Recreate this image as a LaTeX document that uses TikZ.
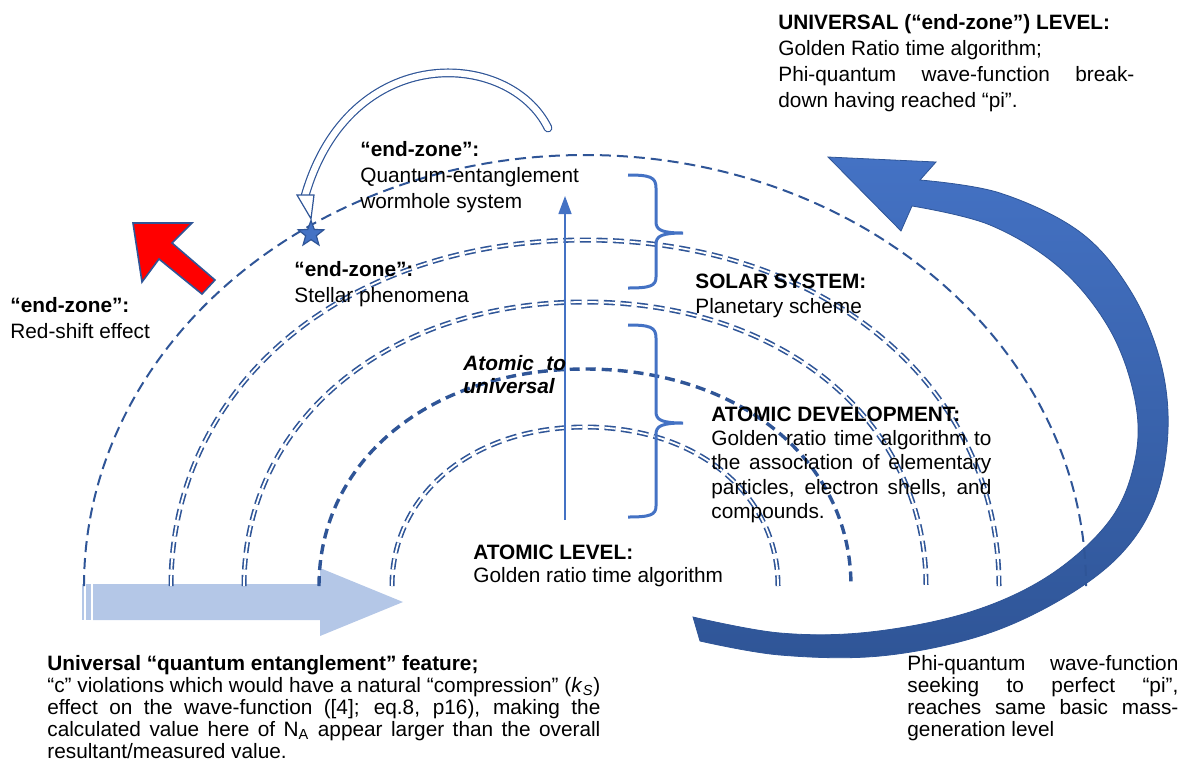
\documentclass[tikz,border=0pt]{standalone}
\usepackage{fontspec}
\setmainfont{Liberation Sans}
\usetikzlibrary{shapes.geometric,arrows.meta}
\definecolor{dblue}{HTML}{2F5597}
\definecolor{mblue}{HTML}{4472C4}
\definecolor{lblue}{HTML}{B4C7E7}
\newcommand{\tbox}[3]{\parbox[t]{#1}{\fontsize{10.4}{#2}\selectfont #3}}
\newcommand{\jl}[1]{\makebox[\linewidth][s]{#1}}
\tikzset{
  txt/.style={anchor=base west, inner sep=0pt},
  arcsingle/.style={draw=dblue, line width=1pt, dash pattern=on 5.5pt off 3pt},
  arcdouble/.style={draw=dblue, line width=0.8pt, double=white, double distance=0.9pt, dash pattern=on 5.5pt off 2.8pt},
  arcthick/.style={draw=dblue, line width=1.7pt, dash pattern=on 5pt off 3pt},
  bracestyle/.style={draw=mblue, line width=1.5pt},
}
\begin{document}
\begin{tikzpicture}[x=0.5pt,y=0.5pt]
\useasboundingbox (0,0) rectangle (1188,-767);

% light blue striped arrow
\fill[lblue] (82,-584) rectangle (84,-620);
\fill[lblue] (86,-584) rectangle (91,-620);
\fill[lblue] (93,-584) -- (320,-584) -- (320,-568) -- (403,-602) -- (320,-636) -- (320,-620) -- (93,-620) -- cycle;

% big curved blue arrow
\shadedraw[top color=mblue, middle color=mblue, bottom color=dblue, draw=dblue, line width=0.4pt]
  plot[smooth, tension=0.6] coordinates {(700,-641) (780,-655) (880,-656) (980,-636) (1060,-600) (1120,-555) (1155,-500) (1168,-430) (1160,-360) (1130,-290) (1080,-232) (1000,-193) (920,-180)}
  -- (936,-162) -- (828,-157) -- (901,-231)
  -- plot[smooth, tension=0.6] coordinates {(912,-206) (990,-225) (1060,-268) (1110,-330) (1135,-400) (1135,-460) (1110,-520) (1050,-575) (970,-612) (870,-632) (780,-633) (693,-617)}
  -- cycle;

% red arrow
\filldraw[fill=red, draw=dblue, line width=0.8pt, line join=miter]
  (133,-223) -- (192,-223) -- (172,-243) -- (215,-280) -- (202,-294) -- (159,-259) -- (142,-282) -- cycle;

% dashed arcs
\draw[arcsingle] (84,-586) arc[start angle=180, end angle=0, x radius=501, y radius=431];
\draw[arcdouble] (171,-586) .. controls (171,-385.3) and (344.9,-240) .. (585,-240) .. controls (825.1,-240) and (999,-385.3) .. (999,-586);
\draw[arcdouble] (244,-586) .. controls (244,-421.3) and (387.2,-302) .. (585,-302) .. controls (782.8,-302) and (926,-421.3) .. (926,-586);
\draw[arcthick] (319,-586) .. controls (319,-460.1) and (430.7,-369) .. (585,-369) .. controls (739.3,-369) and (851,-460.1) .. (851,-586);
\draw[arcdouble] (392,-586) .. controls (392,-493.8) and (473.1,-427) .. (585,-427) .. controls (696.9,-427) and (778,-493.8) .. (778,-586);

% braces
\draw[bracestyle] (628,-175) .. controls (650,-175) and (656,-177) .. (656,-188) -- (656,-222)
  .. controls (656,-230) and (662,-233) .. (683,-233)
  .. controls (662,-233) and (656,-236) .. (656,-244) -- (656,-277)
  .. controls (656,-286) and (650,-288) .. (628,-288);
\draw[bracestyle] (628,-325) .. controls (650,-325) and (656,-327) .. (656,-338) -- (656,-412)
  .. controls (656,-420) and (662,-423) .. (683,-423)
  .. controls (662,-423) and (656,-426) .. (656,-434) -- (656,-506)
  .. controls (656,-515) and (650,-517) .. (628,-517);

% vertical arrow
\coordinate (vbot) at (565,-520);
\coordinate (vtop) at (565,-196);
\draw[mblue, line width=0.7pt, -{Triangle[length=9pt,width=6.5pt]}] (vbot) -- (vtop);

% star
\node[star, star points=5, star point ratio=2.4, minimum size=13.5pt, inner sep=0pt, fill=mblue, draw=dblue, line width=0.6pt] (star) at (311,-234) {};

% hollow curved arrow
\coordinate (cvtail) at (548,-128);
\coordinate (cvhead) at (305,-196);
\draw[draw=dblue, line width=0.6pt, double=white, double distance=3.2pt, line cap=round] (cvtail) .. controls (510,-50) and (350,-40) .. (cvhead);
\filldraw[fill=white, draw=dblue, line width=0.6pt, line join=miter] (297,-195) -- (314,-195) -- (star.north) -- cycle;

% texts
\node[txt] (univ) at (778,-29) {\tbox{178pt}{13.15pt}{\textbf{UNIVERSAL (“end-zone”) LEVEL:}\\ Golden Ratio time algorithm;\\ \jl{Phi-quantum wave-function break-}\\ down having reached “pi”.}};
\node[txt] (ez1) at (360,-156) {\tbox{150pt}{13pt}{\textbf{“end-zone”:}\\ Quantum-entanglement\\ wormhole system}};
\node[txt] (ez2) at (294,-276) {\tbox{120pt}{13pt}{\textbf{“end-zone”:}\\ Stellar phenomena}};
\node[txt] (ez3) at (10,-312) {\tbox{120pt}{13pt}{\textbf{“end-zone”:}\\ Red-shift effect}};
\node[txt] (solar) at (695,-288) {\tbox{120pt}{12.5pt}{\textbf{SOLAR SYSTEM:}\\ Planetary scheme}};
\node[txt] (atu) at (463,-370) {\tbox{70pt}{11.5pt}{\textbf{\textit{Atomic\hspace{0.6em}to}}\\ \textbf{\textit{universal}}}};
\node[txt] (atdev) at (711,-421) {\tbox{140pt}{12.2pt}{\textbf{ATOMIC DEVELOPMENT:}\\ \jl{Golden ratio time algorithm to}\\ \jl{the association of elementary}\\ \jl{particles, electron shells, and}\\ compounds.}};
\node[txt] (atlev) at (473,-559) {\tbox{140pt}{11.5pt}{\textbf{ATOMIC LEVEL:}\\ Golden ratio time algorithm}};
\node[txt] (qef) at (47,-670) {\tbox{276.5pt}{11pt}{\textbf{Universal “quantum entanglement” feature;}\\ \jl{“c” violations which would have a natural “compression” (\textit{k}\textsubscript{\textit{S}})}\\ \jl{effect on the wave-function ([4]; eq.8, p16), making the}\\ \jl{calculated value here of N\textsubscript{A} appear larger than the overall}\\ resultant/measured value.}};
\node[txt] (phi) at (907,-670) {\tbox{135.5pt}{11pt}{\jl{Phi-quantum wave-function}\\ \jl{seeking to perfect “pi”,}\\ \jl{reaches same basic mass-}\\ generation level}};
\end{tikzpicture}
\end{document}
